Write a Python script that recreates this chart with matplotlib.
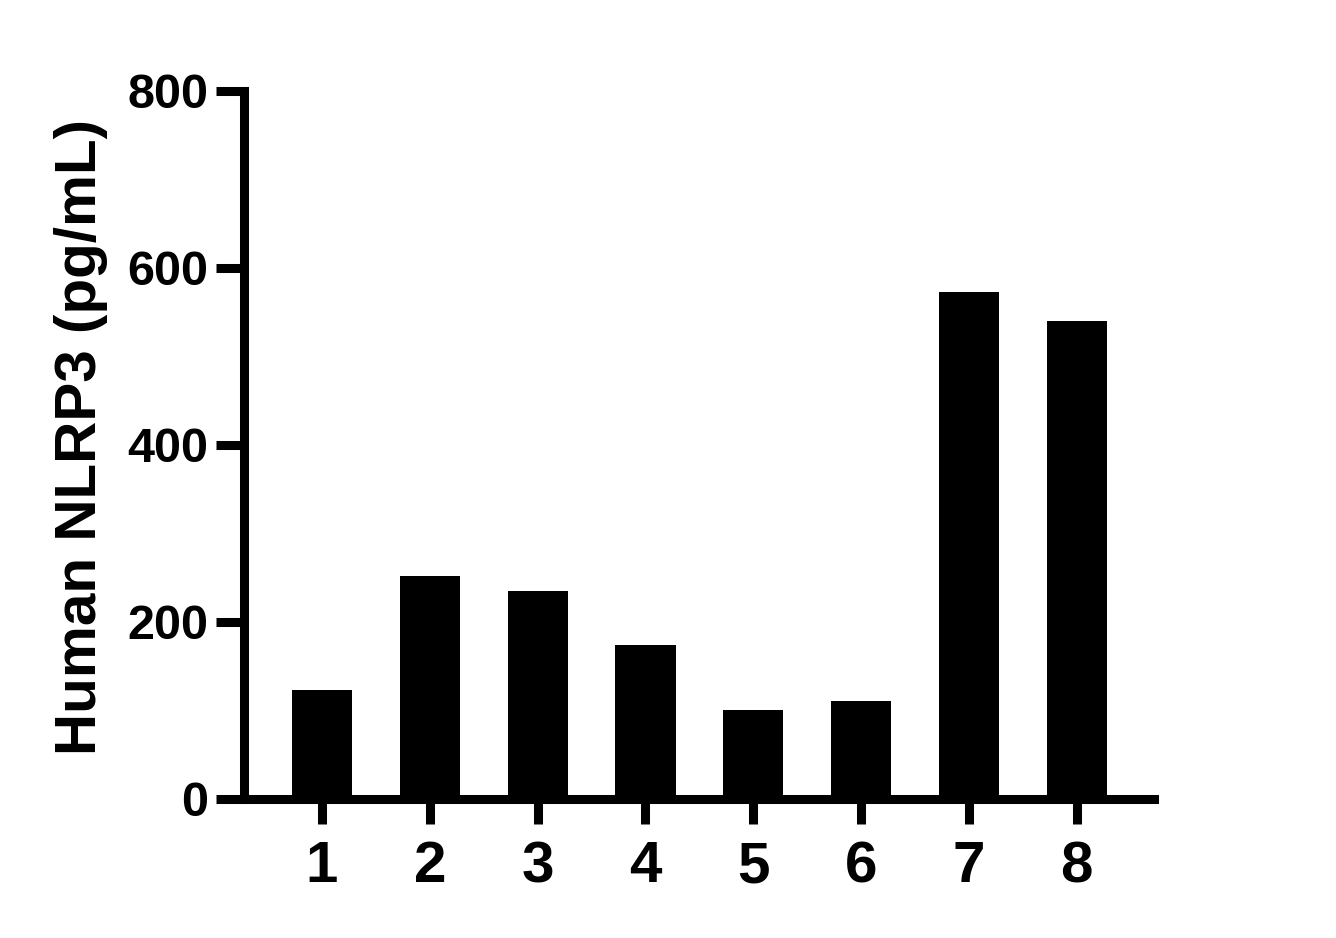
import matplotlib
matplotlib.use("Agg")
import matplotlib.pyplot as plt

# values
groups = ["1", "2", "3", "4", "5", "6", "7", "8"]
nlrp3 = [122.6, 251.7, 234.8, 173.4, 100.0, 110.2, 572.7, 539.5]
y_ticks = [0, 200, 400, 600, 800]

plt.rcParams['font.family'] = ['Liberation Sans', 'DejaVu Sans']
plt.rcParams['font.weight'] = 'bold'

fig = plt.figure(figsize=(13.36, 9.38), dpi=100)
ax = fig.add_axes([0.1830, 0.1487, 0.8641 - 0.1830, 0.9035 - 0.1487])

pos = list(range(1, len(groups) + 1))
ax.bar(pos, nlrp3, width=0.557, color='black', edgecolor='none')

ax.set_xlim(0.281, 8.72)
ax.set_ylim(0, 800)
ax.set_xticks(pos)
ax.set_xticklabels(groups)
ax.set_yticks(y_ticks)

for side in ['top', 'right']:
    ax.spines[side].set_visible(False)
for side in ['left', 'bottom']:
    ax.spines[side].set_linewidth(6.5)

ax.tick_params(axis='y', length=20, width=6.5, pad=6, labelsize=35)
ax.tick_params(axis='x', length=18, width=6.5, pad=12, labelsize=42)
for lab in ax.get_xticklabels() + ax.get_yticklabels():
    lab.set_fontweight('bold')

ax.set_ylabel('Human NLRP3 (pg/mL)', fontsize=42, fontweight='bold')
ax.yaxis.set_label_coords(-0.150, 0.51)

fig.savefig('out.png', dpi=100)
plt.close(fig)
